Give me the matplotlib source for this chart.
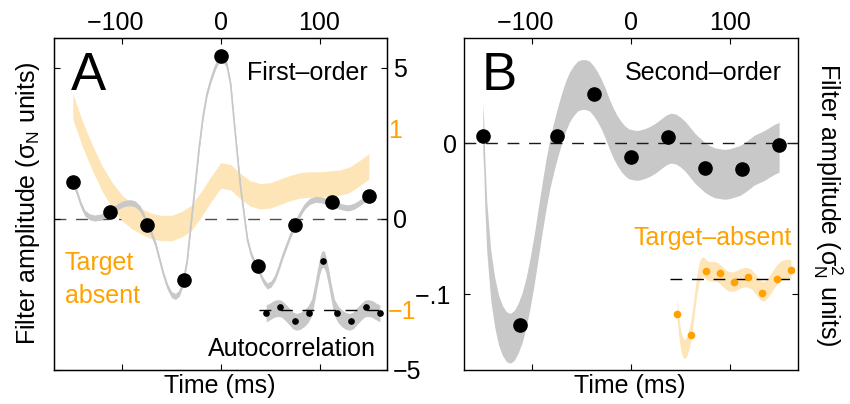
import matplotlib
matplotlib.use('Agg')
import matplotlib.pyplot as plt
import numpy as np

plt.rcParams['font.family'] = ['Liberation Sans', 'DejaVu Sans']
plt.rcParams['mathtext.fontset'] = 'custom'
plt.rcParams['mathtext.rm'] = 'Liberation Sans'
plt.rcParams['mathtext.default'] = 'regular'

# ---- data ----
lags = [-150, -112.5, -75, -37.5, 0, 37.5, 75, 112.5, 150]
time_ticks = [-100, 0, 100]
time_ticklabels = ['\u2212100  ', '0', '100']

# panel A: first-order filter (sigma_N units)
first_dots = [1.22, 0.24, -0.20, -2.02, 5.40, -1.55, -0.21, 0.56, 0.77]
first_t = [-150, -146, -142, -138, -133, -128, -122, -116, -110, -104,
           -98, -92, -87, -82, -78, -74, -70, -66, -62, -58,
           -54, -50, -46, -42, -38, -34, -30, -26, -22, -18,
           -14, -10, -6, -3, 0, 3, 6, 10, 14, 17,
           20, 24, 27, 31, 35, 39, 43, 47, 51, 55,
           59, 63, 67, 71, 75, 80, 85, 90, 96, 102,
           108, 113, 119, 125, 130, 135, 140, 145, 150]
first_c = [1.20, 0.90, 0.50, 0.20, 0.07, 0.03, 0.06, 0.15, 0.28, 0.42,
           0.51, 0.54, 0.50, 0.35, 0.10, -0.20, -0.50, -0.85, -1.35, -1.85,
           -2.25, -2.50, -2.57, -2.45, -2.10, -1.35, -0.10, 1.10, 2.35, 3.40,
           4.15, 4.62, 5.00, 5.22, 5.30, 5.25, 5.12, 4.45, 3.05, 2.05,
           1.05, 0.05, -0.70, -1.20, -1.50, -1.75, -2.05, -2.22, -2.15, -1.95,
           -1.60, -1.20, -0.85, -0.50, -0.20, 0.15, 0.42, 0.58, 0.65, 0.63,
           0.57, 0.52, 0.44, 0.38, 0.37, 0.42, 0.52, 0.64, 0.77]
first_hw = 0.1
first_yticks = [-5, 0, 5]

# panel A: target-absent first-order (orange scale)
absent1_t = [-150, -140, -130, -120, -110, -100, -90, -80, -70, -60,
             -50, -40, -30, -20, -10, 0, 10, 20, 30, 40,
             50, 60, 70, 80, 90, 100, 110, 120, 130, 140, 150]
absent1_c = [1.24, 0.93, 0.67, 0.44, 0.26, 0.12, 0.03, -0.03, -0.08, -0.10,
             -0.10, -0.06, 0.01, 0.16, 0.33, 0.48, 0.46, 0.36, 0.28, 0.25,
             0.26, 0.30, 0.34, 0.37, 0.38, 0.38, 0.39, 0.40, 0.43, 0.50, 0.58]
absent1_hw = 0.14
absent1_yticks = [-1, 1]

# panel A inset: noise autocorrelation
autocorr_dots = [-0.067, 0.055, -0.223, -0.067, 1.0, -0.067, -0.223, 0.055, -0.067]
autocorr_t = [-150, -140, -130, -120, -110, -100, -90, -80, -70, -60,
              -50, -40, -30, -22, -15, -8, -4, 0, 4, 8,
              15, 22, 30, 40, 50, 60, 70, 80, 90, 100,
              110, 120, 130, 140, 150]
autocorr_c = [-0.07, -0.03, 0.02, 0.04, 0.03, -0.04, -0.12, -0.21, -0.24, -0.22,
              -0.17, -0.09, 0.05, 0.35, 0.65, 0.91, 1.01, 1.04, 1.01, 0.91,
              0.65, 0.35, 0.05, -0.09, -0.17, -0.22, -0.24, -0.21, -0.12, -0.04,
              0.03, 0.04, 0.02, -0.03, -0.07]
autocorr_hw = 0.17

# panel B: second-order filter (sigma_N^2 units)
second_dots = [0.005, -0.120, 0.005, 0.0325, -0.009, 0.004, -0.0165, -0.017, -0.001]
second_t = [-150, -149, -148, -146, -142, -138, -134, -130, -126, -122,
            -118, -114, -110, -106, -102, -98, -94, -90, -86, -82,
            -78, -74, -70, -66, -62, -58, -54, -50, -46, -42,
            -38, -34, -30, -26, -22, -18, -14, -10, -6, -2,
            2, 6, 10, 15, 20, 25, 30, 35, 40, 45,
            50, 55, 60, 65, 70, 75, 80, 85, 90, 95,
            100, 105, 110, 115, 120, 125, 130, 135, 140, 145, 150]
second_c = [0.010, -0.002, -0.025, -0.055, -0.087, -0.105, -0.117, -0.124, -0.128, -0.129,
            -0.127, -0.122, -0.115, -0.105, -0.092, -0.077, -0.060, -0.043, -0.027, -0.013,
            -0.002, 0.008, 0.017, 0.025, 0.031, 0.035, 0.038, 0.039, 0.039, 0.038,
            0.035, 0.031, 0.026, 0.020, 0.013, 0.007, 0.002, -0.002, -0.005, -0.007,
            -0.0075, -0.008, -0.0075, -0.0065, -0.005, -0.003, -0.0005, 0.002, 0.0035, 0.003,
            0.001, -0.002, -0.006, -0.010, -0.013, -0.016, -0.018, -0.0195, -0.020, -0.0205,
            -0.020, -0.019, -0.018, -0.016, -0.0135, -0.011, -0.0095, -0.008, -0.006, -0.004,
            -0.0025]
second_hw = 0.0165
second_yticks = [-0.1, 0]
second_yticklabels = ['\u2212.1 ', '0']

# panel B inset: target-absent second-order
absent2_dots = [-0.061, -0.098, 0.0144, 0.0115, -0.0042, 0.004, -0.0243, 0.0, 0.0167]
absent2_t = [-150, -146, -142, -138, -134, -130, -126, -122, -118, -114,
             -110, -106, -102, -98, -94, -90, -86, -82, -78, -72,
             -66, -58, -50, -42, -34, -26, -18, -10, -2, 6,
             14, 22, 30, 38, 46, 54, 62, 70, 76, 82,
             90, 98, 106, 114, 122, 130, 138, 146, 150]
absent2_c = [-0.050, -0.080, -0.100, -0.113, -0.120, -0.122, -0.119, -0.112, -0.103, -0.090,
             -0.072, -0.052, -0.030, -0.010, 0.006, 0.016, 0.021, 0.022, 0.020, 0.016,
             0.014, 0.014, 0.014, 0.012, 0.007, 0.002, -0.002, -0.004, -0.004, -0.002,
             0.001, 0.003, 0.004, 0.003, 0.000, -0.006, -0.013, -0.019, -0.021, -0.020,
             -0.014, -0.006, 0.002, 0.009, 0.014, 0.017, 0.018, 0.018, 0.017]
absent2_hw = 0.017

# ---- styles ----
GREY = '#c8c8c8'
ORANGE = '#ffa200'
PALE = '#fde5b8'
FS = 18
XLIM = (-168.75, 168.75)


def band(ax, t, c, hw, color, lw=1.0):
    t = np.asarray(t)
    c = np.asarray(c)
    ax.fill_between(t, c - hw, c + hw, color=color, lw=0)
    if lw:
        ax.plot(t, c, color=color, lw=lw)


def zero_line(ax, color, z=2.5):
    ax.axhline(0, color=color, lw=1.0, dashes=(8.5, 7), zorder=z)


def frame(ax):
    for s in ax.spines.values():
        s.set_linewidth(1.0)
    ax.set_xlim(*XLIM)
    ax.set_xticks(time_ticks)
    ax.set_xticklabels(time_ticklabels)
    ax.tick_params(axis='both', direction='in', length=4, width=0.8,
                   labelsize=FS, top=True, bottom=True, left=True, right=True,
                   labeltop=True, labelbottom=False)
    ax.tick_params(axis='x', pad=2)


fig = plt.figure(figsize=(8.5, 4.04), dpi=100)

# ---------------- panel A ----------------
axA = fig.add_axes([0.0639, 0.0842, 0.3918, 0.8225])
axA2 = axA.twinx()          # orange scale for the target-absent filter
axA.set_zorder(2)
axA2.set_zorder(1)
axA.patch.set_visible(False)

axA2.set_ylim(-5 / 3, 2)
zero_line(axA2, '0.3', z=0.5)
band(axA2, absent1_t, absent1_c, absent1_hw, PALE, lw=0)
axA2.set_yticks(absent1_yticks)
axA2.tick_params(axis='y', right=True, labelright=True, length=0, pad=0.5,
                 labelsize=FS, labelcolor=ORANGE)

frame(axA)
axA.set_ylim(-5, 6)
axA.set_yticks(first_yticks)
axA.tick_params(axis='y', labelleft=False, labelright=True, pad=4)
band(axA, first_t, first_c, first_hw, GREY, lw=1.2)
axA.plot(lags, first_dots, 'o', color='k', ms=9.5, zorder=5)

axA.text(0.049, 0.8426, 'A', transform=axA.transAxes, fontsize=38, va='baseline')
axA.text(0.942, 0.8727, 'First\u2013order', transform=axA.transAxes, fontsize=FS,
         ha='right', va='baseline')
axA.text(0.032, 0.301, 'Target', transform=axA.transAxes, fontsize=FS,
         color=ORANGE, va='baseline')
axA.text(0.032, 0.2017, 'absent', transform=axA.transAxes, fontsize=FS,
         color=ORANGE, va='baseline')
axA.text(0.9655, 0.0421, 'Autocorrelation', transform=axA.transAxes, fontsize=FS,
         ha='right', va='baseline')

fig.text(220 / 850, 1 - 393 / 404, 'Time (ms)', fontsize=FS, ha='center', va='baseline')
fig.text(28.5 / 850, 1 - 203 / 404, r'Filter amplitude ($\sigma_N$ units)', fontsize=FS,
         rotation=90, ha='center', va='center')

# inset A: autocorrelation
insA = fig.add_axes([259 / 850, 64 / 404, 128 / 850, 100 / 404])
insA.set_zorder(3)
insA.set_xlim(*XLIM)
insA.set_ylim(-0.6085, 1.42)
insA.axis('off')
band(insA, autocorr_t, autocorr_c, autocorr_hw, GREY, lw=0)
zero_line(insA, 'k')
insA.plot(lags, autocorr_dots, 'o', color='k', ms=3.8, zorder=5)

# ---------------- panel B ----------------
axB = fig.add_axes([0.5462, 0.0842, 0.3922, 0.8225])
frame(axB)
axB.set_ylim(-0.15, 0.07)
axB.set_yticks(second_yticks)
axB.set_yticklabels(second_yticklabels)
axB.tick_params(axis='y', labelleft=True, labelright=False, pad=5)
band(axB, second_t, second_c, second_hw, GREY, lw=0)
zero_line(axB, '0.1')
axB.plot(lags, second_dots, 'o', color='k', ms=9.5, zorder=5)

axB.text(0.052, 0.8426, 'B', transform=axB.transAxes, fontsize=38, va='baseline')
axB.text(0.953, 0.8727, 'Second\u2013order', transform=axB.transAxes, fontsize=FS,
         ha='right', va='baseline')
axB.text(0.983, 0.376, 'Target\u2013absent', transform=axB.transAxes, fontsize=FS,
         color=ORANGE, ha='right', va='baseline')

fig.text(630 / 850, 1 - 393 / 404, 'Time (ms)', fontsize=FS, ha='center', va='baseline')
fig.text(828 / 850, 1 - 205 / 404, r'Filter amplitude ($\sigma_N^2$ units)', fontsize=FS,
         rotation=270, ha='center', va='center')

# inset B: target-absent second-order
insB = fig.add_axes([670 / 850, (404 - 365.2) / 404, 128 / 850, 126 / 404])
insB.set_zorder(3)
insB.set_xlim(*XLIM)
insB.set_ylim(-0.15, 0.07)
insB.axis('off')
band(insB, absent2_t, absent2_c, absent2_hw, PALE, lw=0)
zero_line(insB, 'k')
insB.plot(lags, absent2_dots, 'o', color=ORANGE, ms=4.5, zorder=5)

fig.savefig('out.png', dpi=100)
